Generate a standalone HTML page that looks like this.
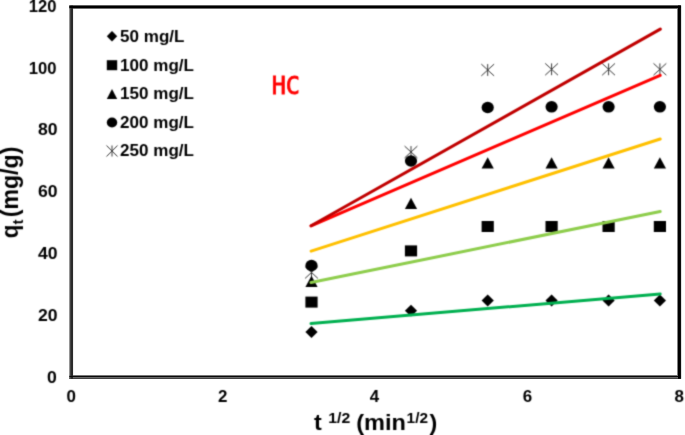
<!DOCTYPE html>
<html><head><meta charset="utf-8"><title>HC chart</title>
<style>
html,body{margin:0;padding:0;background:#fff;}
body{width:685px;height:435px;overflow:hidden;position:relative;font-family:"Liberation Sans",sans-serif;}
text{font-family:"Liberation Sans",sans-serif;font-weight:bold;fill:#000;}
.lg{font-size:16px;}
.tk{font-size:16px;}
.tt{font-size:22.4px;}
.sb{font-size:14.7px;}
.hc{font-family:"DejaVu Sans Mono",monospace;font-weight:normal;font-size:25px;fill:#ff0000;stroke:#ff0000;stroke-width:0.8px;}
</style></head><body>
<svg width="685" height="435" viewBox="0 0 685 435" style="display:block;position:absolute;left:0;top:0">
<defs><filter id="soft" x="0" y="0" width="685" height="435" filterUnits="userSpaceOnUse" color-interpolation-filters="sRGB"><feConvolveMatrix order="3" kernelMatrix="0.0277 0.1110 0.0277 0.1110 0.4452 0.1110 0.0277 0.1110 0.0277" edgeMode="duplicate" preserveAlpha="true"/></filter></defs>
<g filter="url(#soft)">
<rect width="685" height="435" fill="#fff"/>
<path d="M305.1,266.6L317.9,278.4M305.1,278.4L317.9,266.6M311.5,266.6L311.5,278.4" stroke="#3a3a3a" stroke-width="1" fill="none"/>
<path d="M404.6,146.1L417.4,157.9M404.6,157.9L417.4,146.1M411.0,146.1L411.0,157.9" stroke="#3a3a3a" stroke-width="1" fill="none"/>
<path d="M481.3,64.1L494.1,75.9M481.3,75.9L494.1,64.1M487.7,64.1L487.7,75.9" stroke="#3a3a3a" stroke-width="1" fill="none"/>
<path d="M545.2,63.4L558.0,75.2M545.2,75.2L558.0,63.4M551.6,63.4L551.6,75.2" stroke="#3a3a3a" stroke-width="1" fill="none"/>
<path d="M602.2,63.4L615.0,75.2M602.2,75.2L615.0,63.4M608.6,63.4L608.6,75.2" stroke="#3a3a3a" stroke-width="1" fill="none"/>
<path d="M653.5,63.4L666.3,75.2M653.5,75.2L666.3,63.4M659.9,63.4L659.9,75.2" stroke="#3a3a3a" stroke-width="1" fill="none"/>
<polygon points="305.4,332.0 311.5,326.1 317.6,332.0 311.5,337.9" fill="#000"/>
<polygon points="404.9,310.7 411.0,304.8 417.1,310.7 411.0,316.6" fill="#000"/>
<polygon points="481.6,300.5 487.7,294.6 493.8,300.5 487.7,306.4" fill="#000"/>
<polygon points="545.5,300.5 551.6,294.6 557.7,300.5 551.6,306.4" fill="#000"/>
<polygon points="602.5,300.5 608.6,294.6 614.7,300.5 608.6,306.4" fill="#000"/>
<polygon points="653.8,300.5 659.9,294.6 666.0,300.5 659.9,306.4" fill="#000"/>
<rect x="305.4" y="296.6" width="12.2" height="11.0" fill="#000"/>
<rect x="404.9" y="245.4" width="12.2" height="11.0" fill="#000"/>
<rect x="481.6" y="221.0" width="12.2" height="11.0" fill="#000"/>
<rect x="545.5" y="221.0" width="12.2" height="11.0" fill="#000"/>
<rect x="602.5" y="221.0" width="12.2" height="11.0" fill="#000"/>
<rect x="653.8" y="221.0" width="12.2" height="11.0" fill="#000"/>
<polygon points="305.4,286.9 311.5,275.7 317.6,286.9" fill="#000"/>
<polygon points="404.9,209.0 411.0,197.8 417.1,209.0" fill="#000"/>
<polygon points="481.6,168.4 487.7,157.2 493.8,168.4" fill="#000"/>
<polygon points="545.5,168.4 551.6,157.2 557.7,168.4" fill="#000"/>
<polygon points="602.5,168.4 608.6,157.2 614.7,168.4" fill="#000"/>
<polygon points="653.8,168.4 659.9,157.2 666.0,168.4" fill="#000"/>
<ellipse cx="311.5" cy="265.5" rx="6.1" ry="5.8" fill="#000"/>
<ellipse cx="411.0" cy="161.0" rx="6.1" ry="5.8" fill="#000"/>
<ellipse cx="487.7" cy="107.5" rx="6.1" ry="5.8" fill="#000"/>
<ellipse cx="551.6" cy="106.8" rx="6.1" ry="5.8" fill="#000"/>
<ellipse cx="608.6" cy="106.8" rx="6.1" ry="5.8" fill="#000"/>
<ellipse cx="659.9" cy="106.8" rx="6.1" ry="5.8" fill="#000"/>
<line x1="311" y1="323.5" x2="660.2" y2="294" stroke="#00b050" stroke-width="3.0" stroke-linecap="round"/>
<line x1="311" y1="282.5" x2="660.2" y2="211.5" stroke="#8ecd4c" stroke-width="3.0" stroke-linecap="round"/>
<line x1="311.1" y1="251.1" x2="660.2" y2="139" stroke="#ffc000" stroke-width="3.0" stroke-linecap="round"/>
<line x1="311.1" y1="225.8" x2="660.2" y2="75.4" stroke="#ff0000" stroke-width="3.0" stroke-linecap="round"/>
<line x1="311.1" y1="225.8" x2="660.3" y2="29.1" stroke="#c00000" stroke-width="3.0" stroke-linecap="round"/>
<polygon points="106.8,36.3 112.0,31.1 117.2,36.3 112.0,41.5" fill="#000"/>
<text transform="translate(120.1,41.5) scale(1.065,1)" class="lg">50 mg/L</text>
<rect x="106.8" y="60.2" width="10.4" height="10.0" fill="#000"/>
<text transform="translate(120.1,70.5) scale(1.065,1)" class="lg">100 mg/L</text>
<polygon points="106.8,98.9 112.0,88.9 117.2,98.9" fill="#000"/>
<text transform="translate(120.1,99.1) scale(1.065,1)" class="lg">150 mg/L</text>
<ellipse cx="112.0" cy="122.5" rx="5.2" ry="5" fill="#000"/>
<text transform="translate(120.1,127.75) scale(1.065,1)" class="lg">200 mg/L</text>
<path d="M106.5,145.5L117.5,156.5M106.5,156.5L117.5,145.5M112.0,145.5L112.0,156.5" stroke="#3a3a3a" stroke-width="1" fill="none"/>
<text transform="translate(120.1,156.25) scale(1.065,1)" class="lg">250 mg/L</text>
<text transform="translate(56.7,383.05) scale(1.1,1)" class="tk" text-anchor="end">0</text>
<text transform="translate(57.5,321.24) scale(1.1,1)" class="tk" text-anchor="end">20</text>
<text transform="translate(57.5,259.43) scale(1.1,1)" class="tk" text-anchor="end">40</text>
<text transform="translate(57.5,197.02) scale(1.1,1)" class="tk" text-anchor="end">60</text>
<text transform="translate(57.5,135.31) scale(1.1,1)" class="tk" text-anchor="end">80</text>
<text transform="translate(56.4,74.00) scale(1.04,1)" class="tk" text-anchor="end">100</text>
<text transform="translate(56.4,12.04) scale(1.04,1)" class="tk" text-anchor="end">120</text>
<text transform="translate(71.3,401.9) scale(1.06,1)" class="tk" text-anchor="middle">0</text>
<text transform="translate(222.8,401.9) scale(1.06,1)" class="tk" text-anchor="middle">2</text>
<text transform="translate(374.5,401.9) scale(1.06,1)" class="tk" text-anchor="middle">4</text>
<text transform="translate(527.5,401.9) scale(1.06,1)" class="tk" text-anchor="middle">6</text>
<text transform="translate(679.15,401.9) scale(1.06,1)" class="tk" text-anchor="middle">8</text>
<text transform="translate(271.7,94.4) scale(0.94,1)" class="hc">HC</text>
<text class="tt" transform="translate(17.8,238.3) rotate(-90) scale(1.0,1.05)">q<tspan class="sb" dy="4.8">t</tspan></text>
<text class="tt" transform="translate(17.8,217.2) rotate(-90) scale(1.031,1.05)">(mg/g)</text>
<text class="tt" transform="translate(314,429.6) scale(1.04,1)">t</text>
<text class="tt sb" transform="translate(328.2,422.9) scale(1.076,1)">1/2</text>
<text class="tt" transform="translate(356.16,429.6) scale(1.053,1)">(min</text>
<text class="tt sb" transform="translate(406.6,422.9) scale(1.048,1)">1/2</text>
<text class="tt" transform="translate(429.4,429.6) scale(1.04,1)">)</text>
</g>
<rect x="73" y="5.5" width="1" height="373.3" fill="#f0f0f0"/>
<rect x="681" y="5.5" width="1" height="373.3" fill="#e0e0e0"/>
<rect x="69" y="5.5" width="1" height="373.3" fill="#959595"/>
<rect x="677" y="5.5" width="1" height="373.3" fill="#808080"/>
<rect x="69.3" y="375" width="611.6" height="1" fill="#777777"/>
<rect x="69.3" y="8" width="611.6" height="1" fill="#707070"/>
<rect x="69.3" y="377" width="611.6" height="1" fill="#666666"/>
<rect x="69.3" y="5" width="611.6" height="1" fill="#606060"/>
<rect x="70" y="5.5" width="1" height="373.3" fill="#444444"/>
<rect x="69.3" y="378" width="611.6" height="1" fill="#444444"/>
<rect x="71" y="5.5" width="1" height="373.3" fill="#2a2a2a"/>
<rect x="72" y="5.5" width="1" height="373.3" fill="#2a2a2a"/>
<rect x="680" y="5.5" width="1" height="373.3" fill="#0d0d0d"/>
<rect x="69.3" y="376" width="611.6" height="1" fill="#0a0a0a"/>
<rect x="69.3" y="6" width="611.6" height="1" fill="#000000"/>
<rect x="69.3" y="7" width="611.6" height="1" fill="#000000"/>
<rect x="678" y="5.5" width="1" height="373.3" fill="#000000"/>
<rect x="679" y="5.5" width="1" height="373.3" fill="#000000"/>
</svg>
</body></html>
